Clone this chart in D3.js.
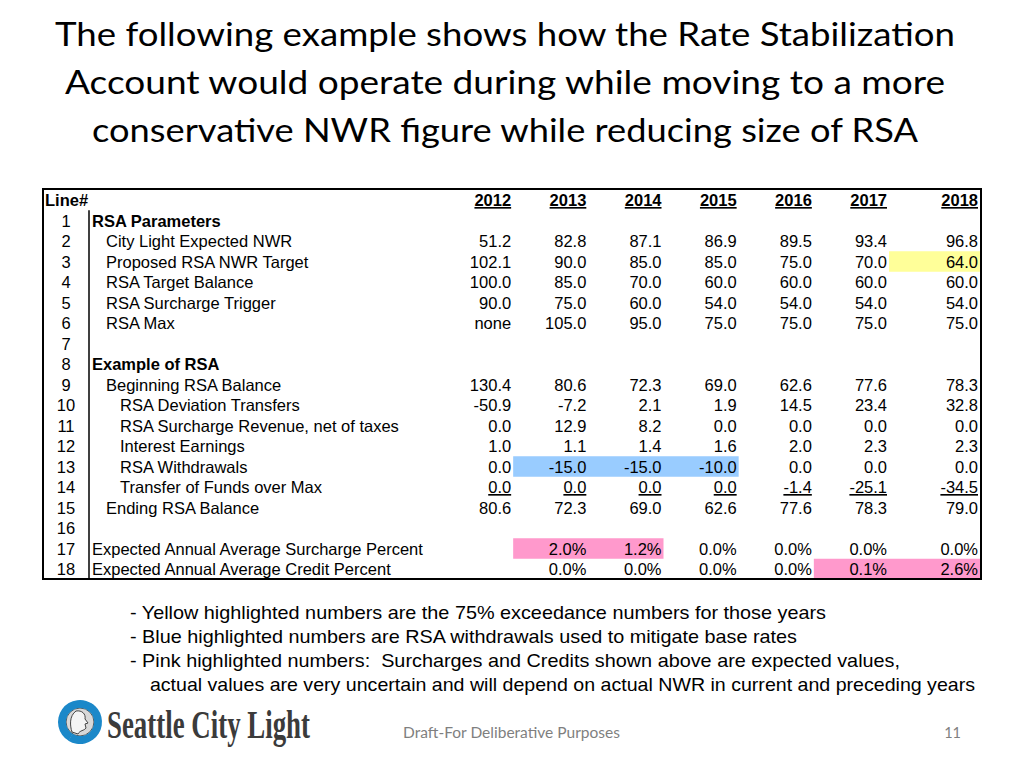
<!DOCTYPE html>
<html>
<head>
<meta charset="utf-8">
<script src="https://cdn.jsdelivr.net/npm/d3@7"></script>
<style>
  html, body { margin: 0; padding: 0; background: #fff; }
  svg { display: block; }
</style>
</head>
<body>
<svg id="chart" width="1024" height="768"></svg>
<script>
// ---------------- DATA ----------------
const titleLines = [
  "The following example shows how the Rate Stabilization",
  "Account would operate during while moving to a more",
  "conservative NWR figure while reducing size of RSA"
];
const years = ["2012", "2013", "2014", "2015", "2016", "2017", "2018"];
const lineNumbers = [1,2,3,4,5,6,7,8,9,10,11,12,13,14,15,16,17,18];
const rowLabels = [
  "RSA Parameters",
  "City Light Expected NWR",
  "Proposed RSA NWR Target",
  "RSA Target Balance",
  "RSA Surcharge Trigger",
  "RSA Max",
  "",
  "Example of RSA",
  "Beginning RSA Balance",
  "RSA Deviation Transfers",
  "RSA Surcharge Revenue, net of taxes",
  "Interest Earnings",
  "RSA Withdrawals",
  "Transfer of Funds over Max",
  "Ending RSA Balance",
  "",
  "Expected Annual Average Surcharge Percent",
  "Expected Annual Average Credit Percent"
];
const rowIndent = [0,1,1,1,1,1,0,0,1,2,2,2,2,2,1,0,0,0];
const rowBold   = [1,0,0,0,0,0,0,1,0,0,0,0,0,0,0,0,0,0];

const cityLightNWR        = [51.2, 82.8, 87.1, 86.9, 89.5, 93.4, 96.8];
const proposedNWRTarget   = [102.1, 90.0, 85.0, 85.0, 75.0, 70.0, 64.0];
const rsaTargetBalance    = [100.0, 85.0, 70.0, 60.0, 60.0, 60.0, 60.0];
const rsaSurchargeTrigger = [90.0, 75.0, 60.0, 54.0, 54.0, 54.0, 54.0];
const rsaMax              = [null, 105.0, 95.0, 75.0, 75.0, 75.0, 75.0];
const beginningBalance    = [130.4, 80.6, 72.3, 69.0, 62.6, 77.6, 78.3];
const deviationTransfers  = [-50.9, -7.2, 2.1, 1.9, 14.5, 23.4, 32.8];
const surchargeRevenue    = [0.0, 12.9, 8.2, 0.0, 0.0, 0.0, 0.0];
const interestEarnings    = [1.0, 1.1, 1.4, 1.6, 2.0, 2.3, 2.3];
const rsaWithdrawals      = [0.0, -15.0, -15.0, -10.0, 0.0, 0.0, 0.0];
const transferOverMax     = [0.0, 0.0, 0.0, 0.0, -1.4, -25.1, -34.5];
const endingBalance       = [80.6, 72.3, 69.0, 62.6, 77.6, 78.3, 79.0];
const surchargePercent    = [null, 2.0, 1.2, 0.0, 0.0, 0.0, 0.0];
const creditPercent       = [null, 0.0, 0.0, 0.0, 0.0, 0.1, 2.6];

// line# -> values
const rowValues = {
  2: cityLightNWR, 3: proposedNWRTarget, 4: rsaTargetBalance, 5: rsaSurchargeTrigger,
  6: rsaMax, 9: beginningBalance, 10: deviationTransfers, 11: surchargeRevenue,
  12: interestEarnings, 13: rsaWithdrawals, 14: transferOverMax, 15: endingBalance,
  17: surchargePercent, 18: creditPercent
};
const percentRows = [17, 18];
const underlinedRows = [14];
const noneText = "none";

// highlights: [line#, firstYear, lastYear]
const highlightCells = [
  [3, "2018", "2018"],
  [13, "2013", "2015"],
  [17, "2013", "2014"],
  [18, "2017", "2018"]
];
const highlightColors = ["#ffff99", "#99ccff", "#ff99cc", "#ff99cc"];

const notes = [
  "- Yellow highlighted numbers are the 75% exceedance numbers for those years",
  "- Blue highlighted numbers are RSA withdrawals used to mitigate base rates",
  "- Pink highlighted numbers:  Surcharges and Credits shown above are expected values,",
  "  actual values are very uncertain and will depend on actual NWR in current and preceding years"
];
const footerText = "Draft-For Deliberative Purposes";
const pageNumber = "11";
const logoText = "Seattle City Light";

// ---------------- LAYOUT ----------------
const svg = d3.select("#chart");
const fmtLocale = d3.formatLocale({decimal: ".", thousands: ",", grouping: [3], currency: ["$", ""], minus: "-"});
const f1 = fmtLocale.format(".1f");

const tableLeft = 43, tableRight = 981, tableTop = 189, tableBottom = 579;
const dividerX = 89;
const rowH = 20.5;
const baseOff = 6;
const yRow = d3.scaleLinear().domain([0, 18]).range([200, 200 + 18 * rowH]);
const colIdx = d3.scaleOrdinal().domain(years).range(d3.range(years.length));
const colEdge = d3.scaleLinear().domain([-1, 5]).range([438, 889]);
function rightEdge(i) { return i === years.length - 1 ? 980 : colEdge(i); }
function leftEdge(i) { return i === years.length - 1 ? colEdge(5) : colEdge(i - 1); }

const tableFont = "'Liberation Sans', Arial, sans-serif";

// Title
svg.append("g").selectAll("text").data(titleLines).join("text")
  .attr("x", 505)
  .attr("y", (d, i) => 46 + i * 48)
  .attr("text-anchor", "middle")
  .attr("font-family", "Lato, 'Open Sans', sans-serif")
  .attr("font-size", 33)
  .attr("fill", "#000")
  .attr("textLength", (d, i) => [900, 880, 826][i])
  .attr("lengthAdjust", "spacingAndGlyphs")
  .text(d => d);

// Highlights
svg.append("g").selectAll("rect").data(highlightCells).join("rect")
  .attr("x", d => leftEdge(colIdx(d[1])))
  .attr("width", d => rightEdge(colIdx(d[2])) - leftEdge(colIdx(d[1])))
  .attr("y", d => yRow(d[0]) - rowH / 2)
  .attr("height", rowH)
  .attr("fill", (d, i) => highlightColors[i]);

// Table border
svg.append("rect")
  .attr("x", tableLeft).attr("y", tableTop)
  .attr("width", tableRight - tableLeft).attr("height", tableBottom - tableTop)
  .attr("fill", "none").attr("stroke", "#000").attr("stroke-width", 2);
svg.append("line")
  .attr("x1", dividerX).attr("x2", dividerX)
  .attr("y1", yRow(0) + rowH / 2).attr("y2", tableBottom)
  .attr("stroke", "#000").attr("stroke-width", 1.5);

// Header
const tg = svg.append("g").attr("font-family", tableFont).attr("font-size", 16.5).attr("fill", "#000");
tg.append("text").attr("x", 45).attr("y", yRow(0) + baseOff)
  .attr("font-weight", "bold").text("Line#");
tg.append("g").selectAll("text").data(years).join("text")
  .attr("x", d => rightEdge(colIdx(d)) - 2)
  .attr("y", yRow(0) + baseOff)
  .attr("text-anchor", "end")
  .attr("font-weight", "bold")
  .attr("text-decoration", "underline")
  .text(d => d);

// Line numbers
tg.append("g").selectAll("text").data(lineNumbers).join("text")
  .attr("x", 66)
  .attr("y", d => yRow(d) + baseOff)
  .attr("text-anchor", "middle")
  .text(d => d);

// Row labels
tg.append("g").selectAll("text").data(rowLabels).join("text")
  .attr("x", (d, i) => 92 + rowIndent[i] * 14)
  .attr("y", (d, i) => yRow(i + 1) + baseOff)
  .attr("font-weight", (d, i) => rowBold[i] ? "bold" : "normal")
  .text(d => d);

// Values
const cells = [];
Object.keys(rowValues).forEach(k => {
  const line = +k;
  rowValues[k].forEach((v, j) => {
    let txt;
    if (v === null) txt = percentRows.includes(line) ? "" : noneText;
    else txt = percentRows.includes(line) ? f1(v) + "%" : f1(v);
    cells.push({line, year: years[j], txt});
  });
});
tg.append("g").selectAll("text").data(cells).join("text")
  .attr("x", d => rightEdge(colIdx(d.year)) - 2)
  .attr("y", d => yRow(d.line) + baseOff)
  .attr("text-anchor", "end")
  .attr("text-decoration", d => underlinedRows.includes(d.line) ? "underline" : null)
  .text(d => d.txt);

// Notes
svg.append("g").selectAll("text").data(notes).join("text")
  .attr("x", (d, i) => i === 3 ? 139 : 130)
  .attr("y", (d, i) => 619 + i * 24)
  .attr("font-family", "'Liberation Sans Narrow', 'Arial Narrow', 'Liberation Sans', sans-serif")
  .attr("font-size", 18.5)
  .attr("fill", "#000")
  .style("white-space", "pre")
  .attr("textLength", (d, i) => [696, 667, 770, 836][i])
  .attr("lengthAdjust", "spacingAndGlyphs")
  .text(d => d);

// Footer
svg.append("text").attr("x", 403).attr("y", 738)
  .attr("font-family", "Lato, 'Open Sans', sans-serif").attr("font-size", 14.5)
  .attr("fill", "#7f7f7f").attr("textLength", 217).attr("lengthAdjust", "spacingAndGlyphs")
  .text(footerText);
svg.append("text").attr("x", 961).attr("y", 738).attr("text-anchor", "end")
  .attr("font-family", "Lato, 'Open Sans', sans-serif").attr("font-size", 14.5)
  .attr("fill", "#7f7f7f").text(pageNumber);

// Logo
const logo = svg.append("g");
const cx = 80, cy = 722;
const arc = d3.arc();
logo.append("circle").attr("cx", cx).attr("cy", cy).attr("r", 14).attr("fill", "#d8d8d8").attr("stroke", "#555").attr("stroke-width", 1);
logo.append("path").attr("transform", `translate(${cx},${cy})`)
  .attr("d", arc({innerRadius: 14, outerRadius: 22, startAngle: -2.6, endAngle: 0.7}))
  .attr("fill", "#1b88c9");
logo.append("path").attr("transform", `translate(${cx},${cy})`)
  .attr("d", arc({innerRadius: 14, outerRadius: 22, startAngle: 0.55, endAngle: 3.7}))
  .attr("fill", "#1b88c9");
logo.append("path").attr("transform", `translate(${cx},${cy})`)
  .attr("d", "M-4,-11 C2,-12 6,-8 5,-3 L8,1 L5,2 L6,6 C4,9 0,8 -2,12 L-8,10 C-10,4 -11,-6 -4,-11 Z")
  .attr("fill", "#f4f4f4").attr("stroke", "#444").attr("stroke-width", 1);
logo.append("text").attr("x", 107).attr("y", 738)
  .attr("font-family", "'Liberation Serif', 'DejaVu Serif', serif")
  .attr("font-weight", "bold").attr("font-size", 40).attr("fill", "#3b3b3b")
  .attr("textLength", 203).attr("lengthAdjust", "spacingAndGlyphs")
  .text(logoText);
</script>
</body>
</html>
